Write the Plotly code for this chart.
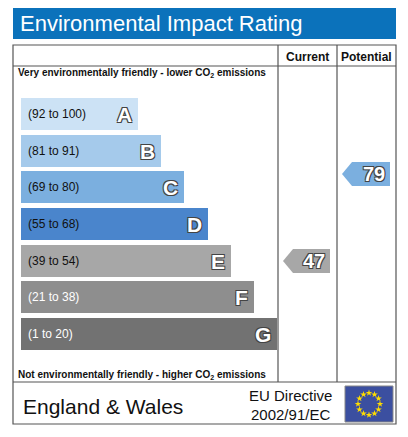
import numpy as np
import plotly.graph_objects as go

# --------------------------------------------------
# Data
# --------------------------------------------------

bands = ["A", "B", "C", "D", "E", "F", "G"]
ranges = ["(92 to 100)", "(81 to 91)", "(69 to 80)", "(55 to 68)",
          "(39 to 54)", "(21 to 38)", "(1 to 20)"]
bar_ends = [138, 161, 184, 208, 231, 254, 277]
band_y = [114, 151, 187, 224, 261, 297, 334]
colors = ["#cce2f5", "#a5caeb", "#7bafdf", "#4a85cc",
          "#a7a7a7", "#8e8e8e", "#727272"]
label_colors = ["#111", "#111", "#111", "#111", "#111", "#fff", "#fff"]

current_value = 47
current_y = 261
potential_value = 79
potential_y = 174

BAR_LEFT = 21
W, H = 408, 437
OFF = 8  # page body margin

fig = go.Figure()

# rating bars
fig.add_trace(go.Bar(
    y=band_y,
    x=[e - BAR_LEFT for e in bar_ends],
    base=BAR_LEFT,
    orientation="h",
    width=32,
    marker=dict(color=colors, line=dict(width=0)),
    hoverinfo="skip",
    showlegend=False,
))

outline = "1px 1px 0 #444, -1px -1px 0 #444, 1px -1px 0 #444, -1px 1px 0 #444"

for b, r, e, y, lc in zip(bands, ranges, bar_ends, band_y, label_colors):
    fig.add_annotation(x=26, y=y, text=r, showarrow=False, xanchor="left",
                       font=dict(size=12, color=lc, family="Liberation Sans"))
    fig.add_annotation(x=e - 4, y=y, text="<b>%s</b>" % b, showarrow=False,
                       xanchor="right",
                       font=dict(size=21, color="white", family="Liberation Sans",
                                 shadow=outline))


# --------------------------------------------------
# Arrows
# --------------------------------------------------

def add_arrow(x0, x1, y, value, color):
    xs = [x0, x0 + 10, x1, x1, x0 + 10, x0]
    ys = [y, y - 12, y - 12, y + 12, y + 12, y]
    fig.add_trace(go.Scatter(x=xs, y=ys, fill="toself", mode="lines",
                             fillcolor=color, line=dict(width=0),
                             hoverinfo="skip", showlegend=False))
    fig.add_annotation(x=x1 - 3, y=y, text="<b>%d</b>" % value, showarrow=False,
                       xanchor="right",
                       font=dict(size=20, color="white", family="Liberation Sans",
                                 shadow=outline))


add_arrow(283, 330, current_y, current_value, "#a7a7a7")
add_arrow(342, 390, potential_y, potential_value, "#7bafdf")

# --------------------------------------------------
# Frame, header, footer
# --------------------------------------------------

shapes = [
    dict(type="rect", x0=13, x1=396, y0=7, y1=39, fillcolor="#0b72bb",
         line=dict(width=0), layer="below"),
    dict(type="rect", x0=13, x1=396, y0=45, y1=424,
         line=dict(color="#555", width=1.2)),
    dict(type="line", x0=13, x1=396, y0=66, y1=66, line=dict(color="#555", width=1.2)),
    dict(type="line", x0=278, x1=278, y0=45, y1=382, line=dict(color="#555", width=1.2)),
    dict(type="line", x0=337, x1=337, y0=45, y1=382, line=dict(color="#555", width=1.2)),
    dict(type="line", x0=13, x1=396, y0=382, y1=382, line=dict(color="#555", width=1.2)),
    dict(type="rect", x0=345, x1=393, y0=386, y1=422, fillcolor="#3b4fa0",
         line=dict(color="#888", width=1), layer="below"),
]

# EU stars
ang = np.arange(12) * np.pi / 6
fig.add_trace(go.Scatter(
    x=369 + 11 * np.cos(ang), y=404 + 11 * np.sin(ang), mode="markers",
    marker=dict(symbol="star", size=5, color="#ffdd00"),
    hoverinfo="skip", showlegend=False,
))

texts = [
    (18, 23, "Environmental Impact Rating", 22, "white", "left"),
    (307, 57, "<b>Current</b>", 12, "#111", "center"),
    (366, 57, "<b>Potential</b>", 12, "#111", "center"),
    (16, 73, "<b>Very environmentally friendly - lower CO<sub>2</sub> emissions</b>", 10, "#111", "left"),
    (16, 375, "<b>Not environmentally friendly - higher CO<sub>2</sub> emissions</b>", 10, "#111", "left"),
    (21, 406, "England &amp; Wales", 21, "#111", "left"),
    (290, 395, "EU Directive", 15, "#111", "center"),
    (290, 414, "2002/91/EC", 15, "#111", "center"),
]
for x, y, t, s, c, a in texts:
    fig.add_annotation(x=x, y=y, text=t, showarrow=False, xanchor=a,
                       font=dict(size=s, color=c, family="Liberation Sans"))

fig.update_layout(
    width=W, height=H,
    margin=dict(l=0, r=0, t=0, b=0),
    paper_bgcolor="white", plot_bgcolor="white",
    shapes=shapes,
    xaxis=dict(range=[OFF, W + OFF], visible=False, fixedrange=True),
    yaxis=dict(range=[H + OFF, OFF], visible=False, fixedrange=True),
    bargap=0,
)

fig.write_html("out.html")
